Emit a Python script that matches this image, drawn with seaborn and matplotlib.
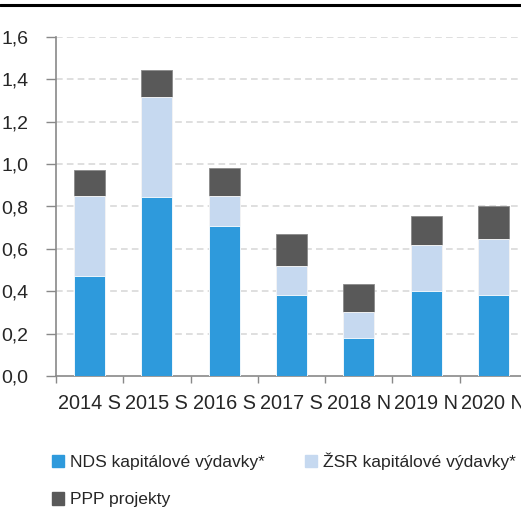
import numpy as np
import pandas as pd
import matplotlib.pyplot as plt
import seaborn as sns
from matplotlib.patches import Patch

# data
years = ['2014 S', '2015 S', '2016 S', '2017 S', '2018 N', '2019 N', '2020 N']
nds = [0.47, 0.845, 0.71, 0.38, 0.18, 0.40, 0.38]
zsr = [0.38, 0.47, 0.14, 0.14, 0.12, 0.22, 0.265]
ppp = [0.12, 0.13, 0.13, 0.15, 0.135, 0.135, 0.155]
yticks = [0.0, 0.2, 0.4, 0.6, 0.8, 1.0, 1.2, 1.4, 1.6]
labels = ['NDS kapitálové výdavky*', 'ŽSR kapitálové výdavky*', 'PPP projekty']

c_nds, c_zsr, c_ppp = '#2E9ADC', '#C6D9F0', '#595959'

sns.set_theme(style="white")
plt.rcParams['font.family'] = ['Liberation Sans', 'DejaVu Sans']

df = pd.DataFrame({'year': years, 'nds': nds, 'zsr': zsr, 'ppp': ppp})
df['l2'] = df['nds'] + df['zsr']
df['l3'] = df['l2'] + df['ppp']

fig = plt.figure(figsize=(5.21, 5.11), dpi=100)
ax = fig.add_axes([56 / 521, 135 / 511, 471 / 521, 339 / 511])

# stacked bars drawn back to front
sns.barplot(data=df, x='year', y='l3', color=c_ppp, width=0.46, ax=ax,
            saturation=1, edgecolor='#8a8a8a', linewidth=0.6, zorder=3)
sns.barplot(data=df, x='year', y='l2', color=c_zsr, width=0.46, ax=ax,
            saturation=1, edgecolor='white', linewidth=0.6, zorder=3)
sns.barplot(data=df, x='year', y='nds', color=c_nds, width=0.46, ax=ax,
            saturation=1, edgecolor='white', linewidth=0.6, zorder=3)

ax.set_xlim(-0.5, 6.5)
ax.set_ylim(0, 1.6)
ax.set_yticks(yticks)
ax.set_yticklabels([f'{v:.1f}'.replace('.', ',') for v in yticks], fontsize=14)
ax.set_xlabel('')
ax.set_ylabel('')
ax.tick_params(axis='x', labelsize=14.3, length=0, pad=13)
ax.set_xticks(np.arange(-0.5, 7, 1), minor=True)
ax.tick_params(axis='x', which='minor', length=5, width=1, color='#898989', direction='out', bottom=True)
ax.tick_params(axis='y', length=7, width=1, color='#898989', direction='out', pad=13, left=True)

for y in yticks[1:]:
    ax.axhline(y, color='#d9d9d9', linestyle=(0, (4, 2.5)), linewidth=1.2, zorder=1)

for s in ['top', 'right']:
    ax.spines[s].set_visible(False)
for s in ['left', 'bottom']:
    ax.spines[s].set_color('#898989')
    ax.spines[s].set_linewidth(1.2)

# legend, row-wise order
handles = [Patch(color=c_nds), Patch(color=c_ppp), Patch(color=c_zsr)]
leg_labels = [labels[0], labels[2], labels[1]]
fig.legend(handles, leg_labels, ncol=2, loc='upper left', bbox_to_anchor=(36 / 521, 1 - 437 / 511),
           frameon=False, fontsize=12.6, handlelength=0.72, handleheight=0.72,
           handletextpad=0.3, columnspacing=2.3, labelspacing=1.25)

# top rule
fig.add_artist(plt.Line2D([0, 1], [1 - 5.5 / 511] * 2, color='black', linewidth=2.2))

fig.savefig('out.png', dpi=100)
